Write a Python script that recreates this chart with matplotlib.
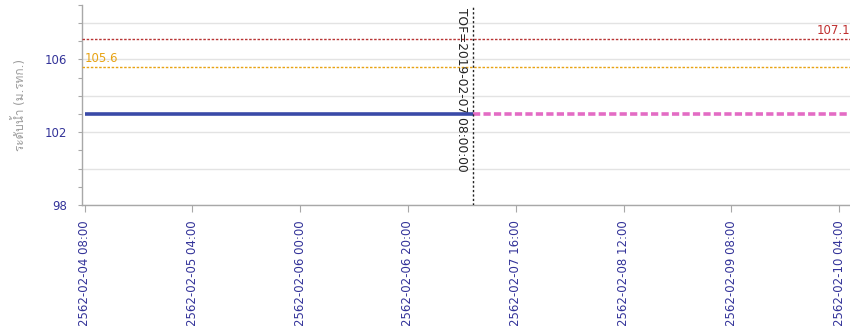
import matplotlib
matplotlib.use("Agg")
import matplotlib.pyplot as plt
import matplotlib.dates as mdates
import matplotlib.transforms as mtransforms
from matplotlib import font_manager as fm
from matplotlib.ft2font import FT2Font
from matplotlib.ticker import MultipleLocator, FuncFormatter
import pandas as pd

# Data
obs_times = ["2019-02-04 08:00", "2019-02-07 08:00"]
obs_levels = [103.0, 103.0]
fc_times = ["2019-02-07 08:00", "2019-02-10 08:00"]
fc_levels = [103.0, 103.0]
tof_time = "2019-02-07 08:00"
tof_label = "TOF=2019-02-07 08:00:00"
bank_level = 107.1
warn_level = 105.6
y_label = "ระดับน้ำ (ม.รทก.)"


def find_thai_font():
    # pick the first installed family that has Thai glyphs
    for f in fm.fontManager.ttflist:
        try:
            if 0x0E23 in FT2Font(f.fname).get_charmap():
                return f.name
        except Exception:
            pass
    return None


thai = find_thai_font()
families = ["DejaVu Sans"] if thai is None else ["DejaVu Sans", thai]
plt.rcParams["font.family"] = families

TICK_COLOR = "#333399"
GRID_COLOR = "#e3e3e3"
SPINE_COLOR = "#a8a8a8"

fig = plt.figure(figsize=(8.5, 3.26), dpi=100)
ax = fig.add_axes([0.0965, 0.371, 0.9035, 0.614])

ot = pd.to_datetime(obs_times)
ft = pd.to_datetime(fc_times)
tof = mdates.date2num(pd.Timestamp(tof_time))

ax.plot(ot, obs_levels, color="#3a4aa8", lw=2.6, solid_capstyle="butt", zorder=4)
ax.plot(ft, fc_levels, color="#e36cc4", lw=2.6, dashes=(2.0, 0.9), zorder=4)

ax.axhline(bank_level, color="#b83434", lw=1.0, dashes=(1.8, 1.2), zorder=3)
ax.axhline(warn_level, color="#e8a313", lw=1.0, dashes=(1.8, 1.2), zorder=3)
ax.axvline(tof, color="#222222", lw=1.0, dashes=(1.6, 1.6), zorder=5)

ax.set_xlim(pd.Timestamp("2019-02-04 07:32"), pd.Timestamp("2019-02-10 06:00"))
ax.set_ylim(98, 109)

# threshold labels
blend = mtransforms.blended_transform_factory(ax.transAxes, ax.transData)
ax.annotate(f"{warn_level}", xy=(0.004, warn_level), xycoords=blend,
            xytext=(0, 1.5), textcoords="offset points",
            ha="left", va="bottom", color="#e8a313", fontsize=8.5)
ax.annotate(f"{bank_level}", xy=(0.956, bank_level), xycoords=blend,
            xytext=(0, 1.5), textcoords="offset points",
            ha="left", va="bottom", color="#c03030", fontsize=8.5,
            annotation_clip=False)

vblend = mtransforms.blended_transform_factory(ax.transData, ax.transAxes)
ax.annotate(tof_label, xy=(tof, 1.0), xycoords=vblend,
            xytext=(-3, -2), textcoords="offset points",
            rotation=270, ha="right", va="top", color="#222222", fontsize=8.8)

# y axis
ax.yaxis.set_major_locator(MultipleLocator(2))
ax.yaxis.set_minor_locator(MultipleLocator(1))
ax.yaxis.set_major_formatter(FuncFormatter(lambda v, p: f"{v:.0f}" if round(v) % 4 == 2 else ""))
ax.grid(axis="y", which="major", color=GRID_COLOR, lw=1.0, zorder=0)
ax.tick_params(axis="y", which="both", length=3, width=0.8, color=SPINE_COLOR,
               labelcolor=TICK_COLOR, labelsize=8.5, pad=8)
ax.set_ylabel(y_label, color="#9a9a9a", fontsize=8.5)
ax.yaxis.set_label_coords(-0.072, 0.5)

# x axis (Buddhist year)
start = pd.Timestamp("2019-02-04 08:00")
ticks = [start + pd.Timedelta(hours=20 * i) for i in range(8)]
ax.set_xticks(ticks)
ax.xaxis.set_major_formatter(FuncFormatter(
    lambda v, p: (lambda d: f"{d.year + 543}-{d:%m-%d %H:%M}")(mdates.num2date(v))))
ax.tick_params(axis="x", length=5, width=0.8, color=SPINE_COLOR,
               labelcolor=TICK_COLOR, labelsize=8.5, labelrotation=90, pad=6)

for s in ("top", "right"):
    ax.spines[s].set_visible(False)
for s in ("left", "bottom"):
    ax.spines[s].set_color(SPINE_COLOR)
    ax.spines[s].set_linewidth(1.0)

fig.savefig("out.png", dpi=100)
